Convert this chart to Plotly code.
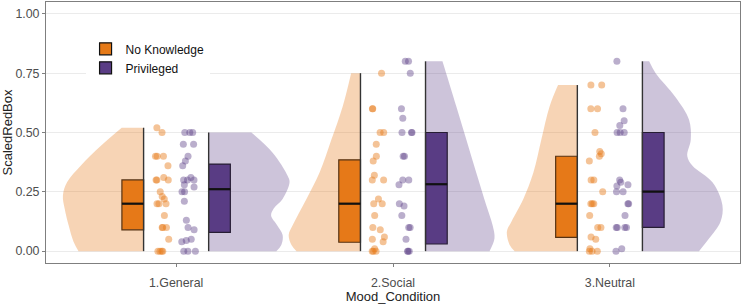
import numpy as np
import plotly.graph_objects as go

categories = ["1.General", "2.Social", "3.Neutral"]
groups = ["No Knowledge", "Privileged"]

nk_general = [0.52, 0.50, 0.40, 0.40, 0.40, 0.36, 0.30, 0.30, 0.30, 0.31, 0.25, 0.23, 0.22,
              0.20, 0.20, 0.20, 0.15, 0.10, 0.10, 0.10, 0.05, 0.0, 0.0, 0.0, 0.0]
pr_general = [0.50, 0.50, 0.50, 0.45, 0.45, 0.40, 0.38, 0.36, 0.30, 0.30, 0.30, 0.31, 0.28,
              0.27, 0.25, 0.25, 0.21, 0.13, 0.10, 0.09, 0.05, 0.045, 0.04, 0.0, 0.0, 0.0]
nk_social = [0.75, 0.60, 0.60, 0.50, 0.50, 0.45, 0.40, 0.38, 0.32, 0.30, 0.30, 0.22, 0.20,
             0.20, 0.15, 0.10, 0.09, 0.06, 0.05, 0.04, 0.01, 0.0, 0.0, 0.0]
pr_social = [0.80, 0.80, 0.75, 0.60, 0.56, 0.50, 0.50, 0.50, 0.40, 0.40, 0.30, 0.30, 0.28,
             0.20, 0.19, 0.15, 0.10, 0.10, 0.05, 0.0, 0.0, 0.0]
nk_neutral = [0.70, 0.70, 0.60, 0.60, 0.50, 0.42, 0.41, 0.40, 0.38, 0.30, 0.30, 0.25, 0.20,
              0.20, 0.20, 0.15, 0.10, 0.10, 0.06, 0.05, 0.01, 0.0, 0.0, 0.0]
pr_neutral = [0.80, 0.60, 0.55, 0.53, 0.50, 0.50, 0.50, 0.30, 0.29, 0.28, 0.275, 0.25, 0.25,
              0.20, 0.20, 0.15, 0.10, 0.10, 0.10, 0.10, 0.01, 0.0]

# box statistics
nk_q1 = [0.09, 0.0375, 0.058]
nk_median = [0.20, 0.20, 0.20]
nk_q3 = [0.30, 0.385, 0.40]
pr_q1 = [0.079, 0.03, 0.10]
pr_median = [0.261, 0.282, 0.251]
pr_q3 = [0.367, 0.50, 0.50]

# half-violin density profiles (level -> half width, in category units)
nk_general_lvl = [0.0, 0.04, 0.11, 0.18, 0.235, 0.29, 0.36, 0.443, 0.52]
nk_general_den = [0.300, 0.323, 0.346, 0.364, 0.372, 0.353, 0.290, 0.198, 0.101]
pr_general_lvl = [0.0, 0.026, 0.068, 0.11, 0.15, 0.18, 0.22, 0.29, 0.318, 0.415, 0.50]
pr_general_den = [0.312, 0.335, 0.341, 0.315, 0.288, 0.300, 0.341, 0.373, 0.364, 0.295, 0.197]
nk_social_lvl = [0.0, 0.026, 0.068, 0.11, 0.22, 0.33, 0.47, 0.61, 0.75]
nk_social_den = [0.295, 0.318, 0.331, 0.312, 0.249, 0.189, 0.134, 0.082, 0.043]
pr_social_lvl = [0.0, 0.054, 0.11, 0.193, 0.33, 0.47, 0.61, 0.75, 0.80]
pr_social_den = [0.295, 0.318, 0.309, 0.280, 0.234, 0.188, 0.142, 0.095, 0.078]
nk_neutral_lvl = [0.0, 0.026, 0.082, 0.124, 0.22, 0.33, 0.47, 0.61, 0.70]
nk_neutral_den = [0.289, 0.312, 0.325, 0.304, 0.249, 0.203, 0.166, 0.128, 0.089]
pr_neutral_lvl = [0.0, 0.054, 0.124, 0.193, 0.29, 0.36, 0.40, 0.47, 0.554, 0.65, 0.75, 0.80]
pr_neutral_den = [0.261, 0.308, 0.360, 0.369, 0.323, 0.231, 0.207, 0.223, 0.215, 0.152, 0.061, 0.031]

y_ticks = [0.0, 0.25, 0.50, 0.75, 1.00]
y_tick_labels = ["0.00", "0.25", "0.50", "0.75", "1.00"]

nk_data = [nk_general, nk_social, nk_neutral]
pr_data = [pr_general, pr_social, pr_neutral]
nk_prof = [(nk_general_lvl, nk_general_den), (nk_social_lvl, nk_social_den), (nk_neutral_lvl, nk_neutral_den)]
pr_prof = [(pr_general_lvl, pr_general_den), (pr_social_lvl, pr_social_den), (pr_neutral_lvl, pr_neutral_den)]

ORANGE = "#E67A18"
PURPLE = "#5A3D85"
ORANGE_FILL = "rgba(230,122,24,0.32)"
PURPLE_FILL = "rgba(90,61,133,0.30)"
ORANGE_PT = "rgba(230,122,24,0.45)"
PURPLE_PT = "rgba(90,61,133,0.42)"
FONT = "Liberation Sans, Arial, sans-serif"

fig = go.Figure()
rng = np.random.default_rng(11)

for i, cat in enumerate(categories):
    k = i + 1
    for (lvl, den), sign, base, fill in [
        (nk_prof[i], -1, k - 0.15, ORANGE_FILL),
        (pr_prof[i], 1, k + 0.15, PURPLE_FILL),
    ]:
        lvl = np.asarray(lvl)
        den = np.asarray(den)
        fig.add_trace(go.Scatter(
            x=[base, base], y=[lvl.min(), lvl.max()], mode="lines",
            line=dict(width=0, color=fill), showlegend=False, hoverinfo="skip",
        ))
        fig.add_trace(go.Scatter(
            x=base + sign * den, y=lvl, mode="lines", fill="tonextx", fillcolor=fill,
            line=dict(width=0, color=fill, shape="spline", smoothing=1.0),
            showlegend=False, hoverinfo="skip",
        ))
        fig.add_trace(go.Scatter(
            x=[base, base], y=[lvl.min(), lvl.max()], mode="lines",
            line=dict(color="#333333", width=1.4), showlegend=False, hoverinfo="skip",
        ))

for i, cat in enumerate(categories):
    k = i + 1
    for vals, center, col in [
        (nk_data[i], k - 0.065, ORANGE_PT),
        (pr_data[i], k + 0.057, PURPLE_PT),
    ]:
        jit = rng.uniform(-0.032, 0.032, len(vals))
        fig.add_trace(go.Scatter(
            x=center + jit, y=vals, mode="markers",
            marker=dict(size=7, color=col, line=dict(width=0)),
            showlegend=False, hoverinfo="skip",
        ))

positions = np.arange(1, len(categories) + 1)
for name, off, q1, med, q3, col in [
    (groups[0], -0.2, nk_q1, nk_median, nk_q3, ORANGE),
    (groups[1], 0.2, pr_q1, pr_median, pr_q3, PURPLE),
]:
    fig.add_trace(go.Box(
        name=name, x=positions + off, q1=q1, median=med, q3=q3,
        lowerfence=q1, upperfence=q3, width=0.1, whiskerwidth=0,
        fillcolor=col, line=dict(color="#111111", width=1.2), boxpoints=False,
        hoverinfo="skip",
    ))

# thicker median bars (ggplot fatten)
for off, med in [(-0.2, nk_median), (0.2, pr_median)]:
    mx, my = [], []
    for p, m in zip(positions + off, med):
        mx += [p - 0.05, p + 0.05, None]
        my += [m, m, None]
    fig.add_trace(go.Scatter(x=mx, y=my, mode="lines", line=dict(color="#111111", width=2.2),
                             showlegend=False, hoverinfo="skip"))

fig.update_layout(
    width=742, height=304,
    margin=dict(l=46, r=2, t=1, b=40),
    paper_bgcolor="white", plot_bgcolor="white",
    boxmode="overlay",
    font=dict(family=FONT, size=12, color="#222222"),
    showlegend=True,
    legend=dict(
        x=0.057, y=0.876, xanchor="left", yanchor="top",
        bgcolor="white", borderwidth=0, traceorder="normal",
        font=dict(family=FONT, size=12, color="#111111"),
        tracegroupgap=0,
    ),
    xaxis=dict(
        range=[0.4, 3.6], tickvals=list(positions), ticktext=categories,
        showgrid=False, zeroline=False,
        showline=True, mirror=True, linecolor="#7f7f7f", linewidth=1,
        ticks="outside", ticklen=3, tickcolor="#7f7f7f", ticklabelstandoff=5,
        tickfont=dict(family=FONT, size=12.4, color="#4d4d4d"),
        title=dict(text="Mood_Condition", font=dict(family=FONT, size=13, color="#222222"), standoff=4),
    ),
    yaxis=dict(
        range=[-0.05, 1.05], tickvals=y_ticks, ticktext=y_tick_labels,
        showgrid=True, gridcolor="#EBEBEB", gridwidth=1, zeroline=False,
        showline=True, mirror=True, linecolor="#7f7f7f", linewidth=1,
        ticks="outside", ticklen=3, tickcolor="#7f7f7f",
        tickfont=dict(family=FONT, size=12.4, color="#4d4d4d"),
        title=dict(text="ScaledRedBox", font=dict(family=FONT, size=13, color="#222222"), standoff=4),
    ),
)

fig.write_html("out.html")
